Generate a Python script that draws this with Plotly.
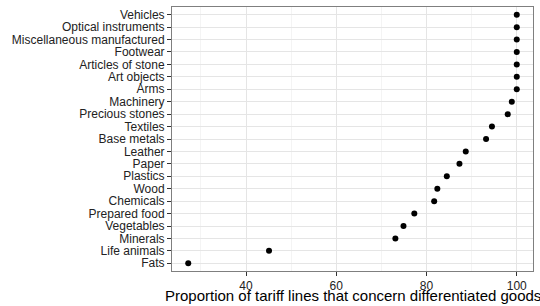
import plotly.graph_objects as go

categories = ["Fats", "Life animals", "Minerals", "Vegetables", "Prepared food",
              "Chemicals", "Wood", "Plastics", "Paper", "Leather", "Base metals",
              "Textiles", "Precious stones", "Machinery", "Arms", "Art objects",
              "Articles of stone", "Footwear", "Miscellaneous manufactured",
              "Optical instruments", "Vehicles"]
values = [27.2, 45.1, 73.1, 74.9, 77.3, 81.7, 82.4, 84.5, 87.3, 88.7, 93.2,
          94.5, 98.0, 98.9, 100, 100, 100, 100, 100, 100, 100]
x_ticks = [40, 60, 80, 100]
x_minor = [30, 50, 70, 90]
x_title = "Proportion of tariff lines that concern differentiated goods"

fig = go.Figure(go.Scatter(
    x=values, y=categories, mode="markers",
    marker=dict(color="black", size=6),
    hoverinfo="x+y",
))

fig.update_layout(
    width=540, height=306,
    margin=dict(l=172, r=7, t=7, b=35),
    paper_bgcolor="white", plot_bgcolor="white",
    showlegend=False,
    font=dict(family="Liberation Sans, Arial, sans-serif", size=12, color="#222222"),
    annotations=[dict(
        text=x_title, x=0.5, xref="paper", y=-0.128, yref="paper",
        xanchor="center", yanchor="bottom", showarrow=False, borderpad=0,
        font=dict(size=15, color="black"),
    )],
)
fig.update_xaxes(
    range=[23.6, 103.6],
    tickmode="array", tickvals=x_ticks,
    showgrid=True, gridcolor="#e5e5e5", gridwidth=1,
    minor=dict(tickvals=x_minor, showgrid=True, gridcolor="#f4f4f4", gridwidth=1, ticks=""),
    ticks="outside", ticklen=4, tickcolor="#333333",
    tickfont=dict(size=12, color="#222222"),
    showline=True, linecolor="#7f7f7f", mirror=True, linewidth=1,
    zeroline=False, automargin=False,
)
fig.update_yaxes(
    type="category",
    categoryorder="array", categoryarray=categories,
    tickmode="array", tickvals=categories, ticktext=categories,
    range=[-0.62, 20.62],
    showgrid=True, gridcolor="#e5e5e5", gridwidth=1,
    ticks="outside", ticklen=4, tickcolor="#333333",
    tickfont=dict(size=12, color="#222222"),
    showline=True, linecolor="#7f7f7f", mirror=True, linewidth=1,
    zeroline=False, automargin=False,
)

fig.write_html("out.html", config={"displayModeBar": False},
               post_script="document.body.style.margin='0';")
